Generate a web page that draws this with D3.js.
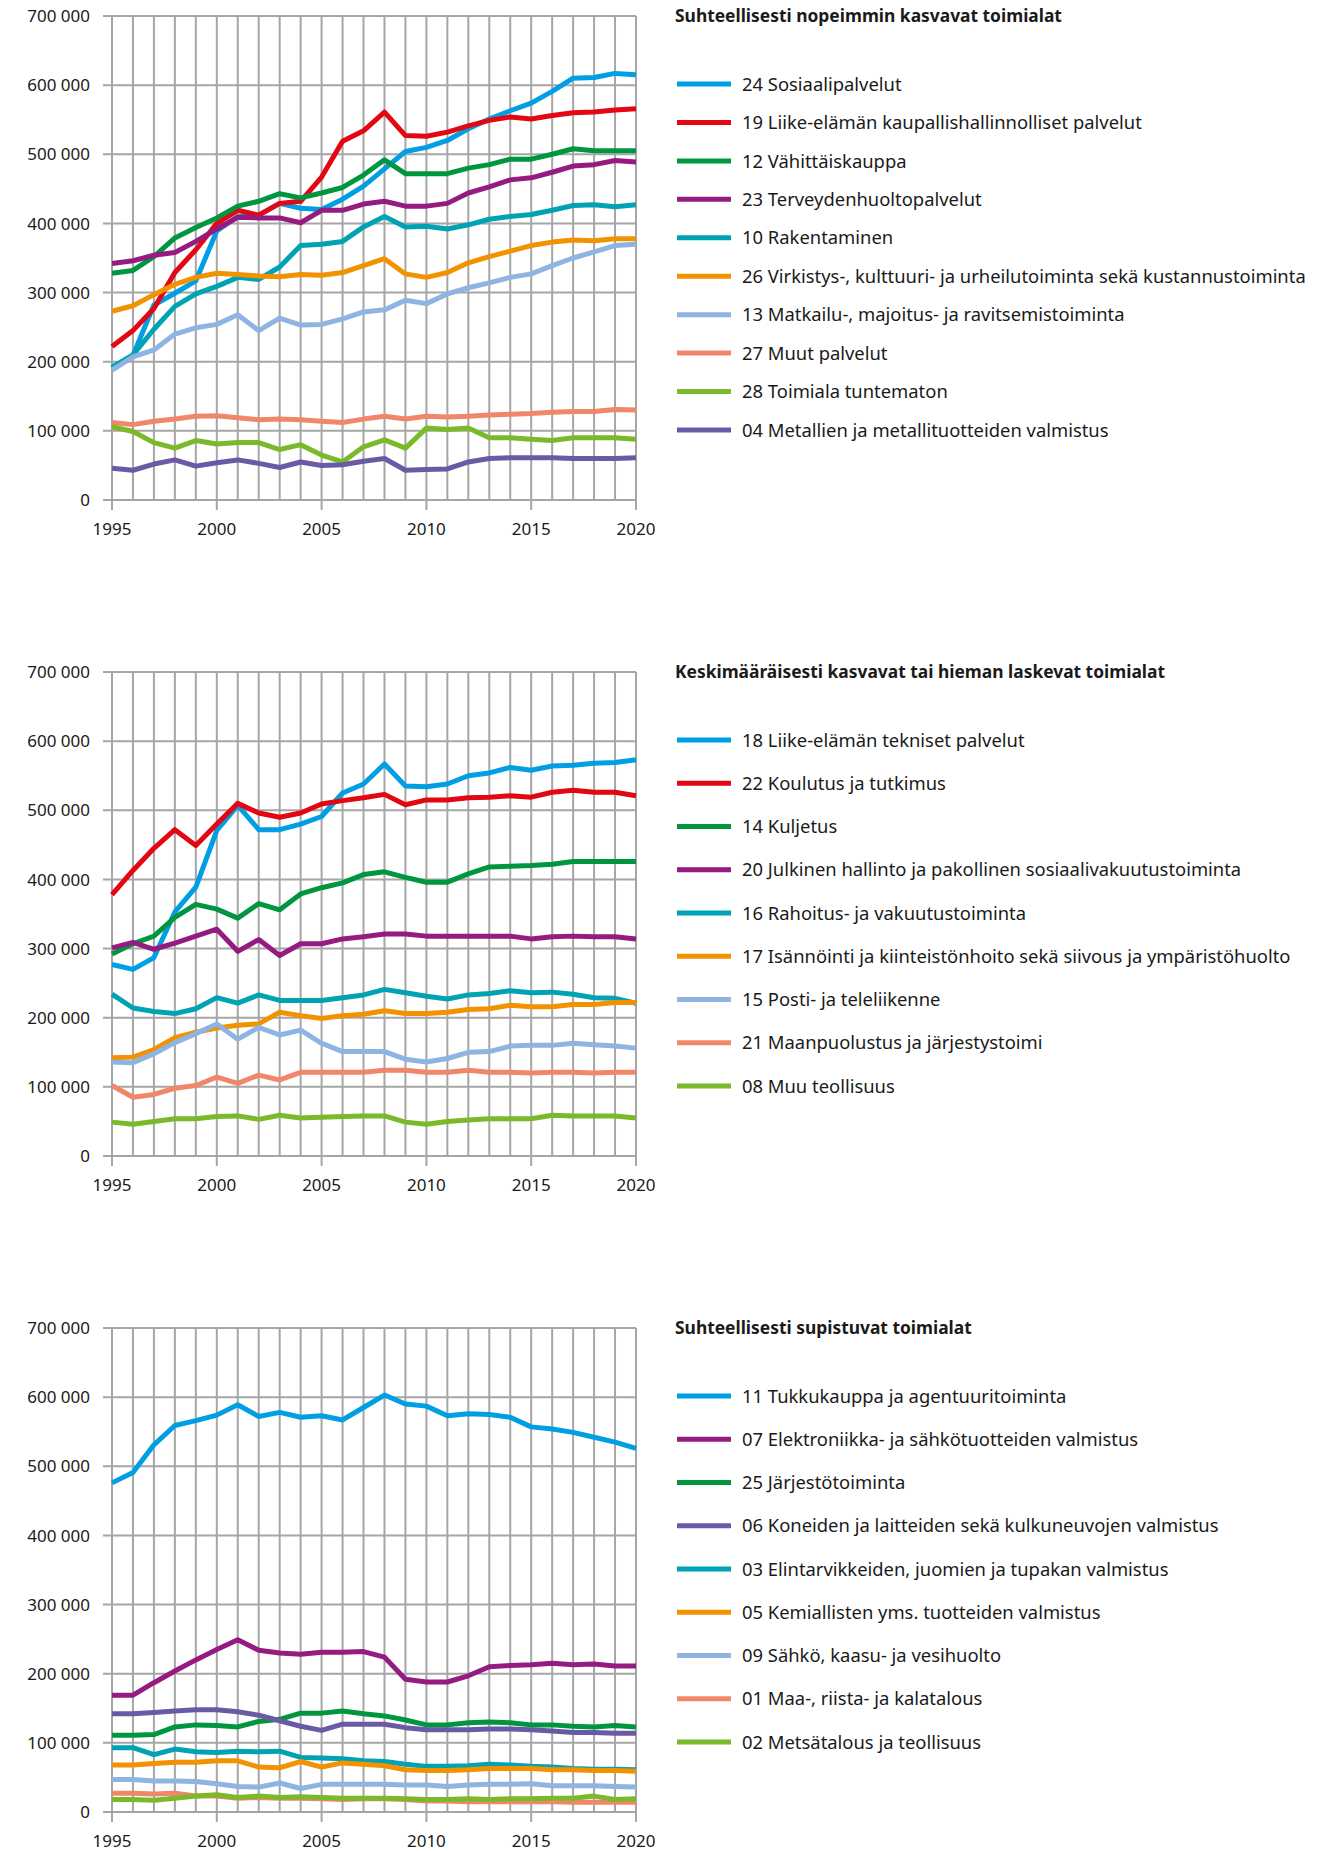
<!DOCTYPE html>
<html lang="fi">
<head>
<meta charset="utf-8">
<script src="https://cdnjs.cloudflare.com/ajax/libs/d3/7.8.5/d3.min.js"></script>
<style>
  body { margin: 0; background: #fff; }
  svg text { font-family: "Noto Sans", sans-serif; fill: #1a1a1a; }
</style>
</head>
<body>
<div id="chart"></div>
<script>
var years = [1995,1996,1997,1998,1999,2000,2001,2002,2003,2004,2005,2006,2007,2008,2009,2010,2011,2012,2013,2014,2015,2016,2017,2018,2019,2020];
var yTicks = [0,100000,200000,300000,400000,500000,600000,700000];
var xTicks = [1995,2000,2005,2010,2015,2020];

var titles = [
  "Suhteellisesti nopeimmin kasvavat toimialat",
  "Keskimääräisesti kasvavat tai hieman laskevat toimialat",
  "Suhteellisesti supistuvat toimialat"
];

// panel 1
var p1Names = ["24 Sosiaalipalvelut","19 Liike-elämän kaupallishallinnolliset palvelut","12 Vähittäiskauppa","23 Terveydenhuoltopalvelut","10 Rakentaminen","26 Virkistys-, kulttuuri- ja urheilutoiminta sekä kustannustoiminta","13 Matkailu-, majoitus- ja ravitsemistoiminta","27 Muut palvelut","28 Toimiala tuntematon","04 Metallien ja metallituotteiden valmistus"];
var p1Colors = ["#009fe3","#e30613","#009640","#951b81","#00a3b4","#f39200","#8db4e2","#f0866a","#7ab929","#6a5aa5"];
var p1Values = [
  [190,209,282,299,317,389,410,412,429,422,420,435,454,479,504,510,520,537,551,563,574,591,610,611,617,615],
  [222,245,277,329,362,400,419,412,429,432,467,519,534,561,527,526,532,541,549,554,551,556,560,561,564,566],
  [328,332,352,379,394,408,425,432,443,437,444,452,470,492,472,472,472,480,485,493,493,500,508,505,505,505],
  [342,346,354,358,374,392,409,408,408,401,419,419,428,432,425,425,429,444,453,463,466,474,483,485,491,489],
  [192,210,247,280,298,309,322,319,337,368,370,374,395,410,395,396,392,398,406,410,413,419,426,427,424,427],
  [273,281,297,312,322,328,326,324,323,326,325,329,339,349,327,322,329,343,352,360,368,373,376,375,378,378],
  [188,207,217,240,249,254,268,245,263,253,254,262,272,275,289,284,298,307,314,322,327,339,350,359,368,370],
  [112,109,114,117,121,122,119,116,117,116,114,112,117,121,117,121,120,121,123,124,125,127,128,128,131,130],
  [106,99,83,75,86,81,83,83,73,80,65,55,77,87,75,104,102,104,90,90,88,86,90,90,90,88],
  [46,43,52,58,49,54,58,53,47,55,50,51,56,60,43,44,45,55,60,61,61,61,60,60,60,61]
];

// panel 2
var p2Names = ["18 Liike-elämän tekniset palvelut","22 Koulutus ja tutkimus","14 Kuljetus","20 Julkinen hallinto ja pakollinen sosiaalivakuutustoiminta","16 Rahoitus- ja vakuutustoiminta","17 Isännöinti ja kiinteistönhoito sekä siivous ja ympäristöhuolto","15 Posti- ja teleliikenne","21 Maanpuolustus ja järjestystoimi","08 Muu teollisuus"];
var p2Colors = ["#009fe3","#e30613","#009640","#951b81","#00a3b4","#f39200","#8db4e2","#f0866a","#7ab929"];
var p2Values = [
  [277,270,287,353,389,471,507,472,472,480,491,525,538,567,535,534,538,550,554,562,558,564,565,568,569,573],
  [378,413,445,472,449,480,510,496,490,496,509,514,518,523,508,515,515,518,519,521,519,526,529,526,526,521],
  [292,307,318,345,364,357,344,365,356,379,388,395,407,411,403,396,396,408,418,419,420,422,426,426,426,426],
  [301,309,299,308,318,328,296,313,290,307,307,314,317,321,321,318,318,318,318,318,314,317,318,317,317,314],
  [234,214,209,206,213,229,221,233,225,225,225,229,233,241,236,231,227,233,235,239,236,237,234,229,228,221],
  [142,143,154,171,179,185,189,191,208,203,199,203,205,210,206,206,208,212,213,218,216,216,219,219,222,222],
  [136,135,148,164,177,191,169,186,175,182,163,151,151,151,140,136,141,150,151,159,160,160,163,161,159,156],
  [102,85,89,98,102,114,105,117,110,121,121,121,121,124,124,121,121,124,121,121,120,121,121,120,121,121],
  [49,46,50,54,54,57,58,53,59,55,56,57,58,58,49,46,50,52,54,54,54,59,58,58,58,55]
];

// panel 3
var p3Names = ["11 Tukkukauppa ja agentuuritoiminta","07 Elektroniikka- ja sähkötuotteiden valmistus","25 Järjestötoiminta","06 Koneiden ja laitteiden sekä kulkuneuvojen valmistus","03 Elintarvikkeiden, juomien ja tupakan valmistus","05 Kemiallisten yms. tuotteiden valmistus","09 Sähkö, kaasu- ja vesihuolto","01 Maa-, riista- ja kalatalous","02 Metsätalous ja teollisuus"];
var p3Colors = ["#009fe3","#951b81","#009640","#6a5aa5","#00a3b4","#f39200","#8db4e2","#f0866a","#7ab929"];
var p3Values = [
  [476,491,531,559,566,574,589,572,578,571,573,567,585,603,590,587,573,576,575,571,557,554,549,542,535,526],
  [169,169,187,204,220,235,249,234,230,228,231,231,232,224,192,188,188,197,210,212,213,215,213,214,211,211],
  [111,111,112,123,126,125,123,131,134,143,143,146,142,139,133,126,126,129,130,129,126,126,124,123,125,123],
  [142,142,144,146,148,148,145,140,132,124,118,127,127,127,122,119,119,119,120,120,119,117,115,115,114,114],
  [93,93,83,91,87,86,88,87,88,79,78,77,74,73,69,66,66,67,69,68,66,65,63,62,62,61],
  [68,68,70,72,72,74,74,65,64,73,65,71,69,67,61,60,60,61,63,63,63,61,61,60,60,59],
  [47,47,45,45,44,41,37,36,42,34,40,40,40,40,39,39,37,39,40,40,41,38,38,38,37,36],
  [27,27,26,27,23,23,20,21,20,20,19,18,19,19,18,16,16,15,15,15,15,15,14,14,14,14],
  [18,18,17,20,23,25,21,23,21,22,21,20,20,20,19,18,18,19,18,19,19,20,20,23,18,19]
];

var panels = [
  {title: titles[0], names: p1Names, colors: p1Colors, values: p1Values, top: 16},
  {title: titles[1], names: p2Names, colors: p2Colors, values: p2Values, top: 672},
  {title: titles[2], names: p3Names, colors: p3Colors, values: p3Values, top: 1328}
];

var W = 1341, H = 1852;
var plotLeft = 112, plotRight = 636, plotH = 484;
var legX = 677;

var svg = d3.select("#chart").append("svg")
    .attr("width", W)
    .attr("height", H);

var fmt = function(d) { return d3.format(",")(d).replace(/,/g, " "); };

panels.forEach(function(p) {
  var x = d3.scaleLinear().domain([1995, 2020]).range([plotLeft, plotRight]);
  var y = d3.scaleLinear().domain([0, 700000]).range([p.top + plotH, p.top]);

  var g = svg.append("g");

  // vertical grid, every year
  g.selectAll(".vg").data(years).enter().append("line")
    .attr("x1", function(d) { return x(d); })
    .attr("x2", function(d) { return x(d); })
    .attr("y1", y(700000))
    .attr("y2", function(d) { return xTicks.indexOf(d) >= 0 ? y(0) + 10 : y(0); })
    .attr("stroke", "#a6a6a6")
    .attr("stroke-width", 2);

  // horizontal grid with short tick to the left
  g.selectAll(".hg").data(yTicks).enter().append("line")
    .attr("x1", plotLeft - 9)
    .attr("x2", plotRight)
    .attr("y1", function(d) { return y(d); })
    .attr("y2", function(d) { return y(d); })
    .attr("stroke", "#a6a6a6")
    .attr("stroke-width", 2);

  g.selectAll(".yl").data(yTicks).enter().append("text")
    .attr("x", 90)
    .attr("y", function(d) { return y(d); })
    .attr("dy", "0.36em")
    .attr("text-anchor", "end")
    .style("font-size", "17px")
    .text(fmt);

  g.selectAll(".xl").data(xTicks).enter().append("text")
    .attr("x", function(d) { return x(d); })
    .attr("y", y(0) + 35)
    .attr("text-anchor", "middle")
    .style("font-size", "17px")
    .text(function(d) { return d; });

  var line = d3.line()
    .x(function(d, i) { return x(years[i]); })
    .y(function(d) { return y(d * 1000); });

  p.values.forEach(function(vals, k) {
    g.append("path")
      .datum(vals)
      .attr("d", line)
      .attr("fill", "none")
      .attr("stroke", p.colors[k])
      .attr("stroke-width", 5)
      .attr("stroke-linejoin", "round");
  });

  // title and legend
  g.append("text")
    .attr("x", 675)
    .attr("y", p.top + 6)
    .style("font-size", "17.4px")
    .style("font-weight", "bold")
    .text(p.title);

  var n = p.names.length;
  var ly = d3.scaleLinear().domain([0, n - 1]).range([p.top + 68, p.top + 414]);

  p.names.forEach(function(name, k) {
    g.append("line")
      .attr("x1", legX).attr("x2", legX + 54)
      .attr("y1", ly(k)).attr("y2", ly(k))
      .attr("stroke", p.colors[k])
      .attr("stroke-width", 5);
    g.append("text")
      .attr("x", legX + 65)
      .attr("y", ly(k))
      .attr("dy", "0.36em")
      .style("font-size", "18.4px")
      .text(name);
  });
});
</script>
</body>
</html>
